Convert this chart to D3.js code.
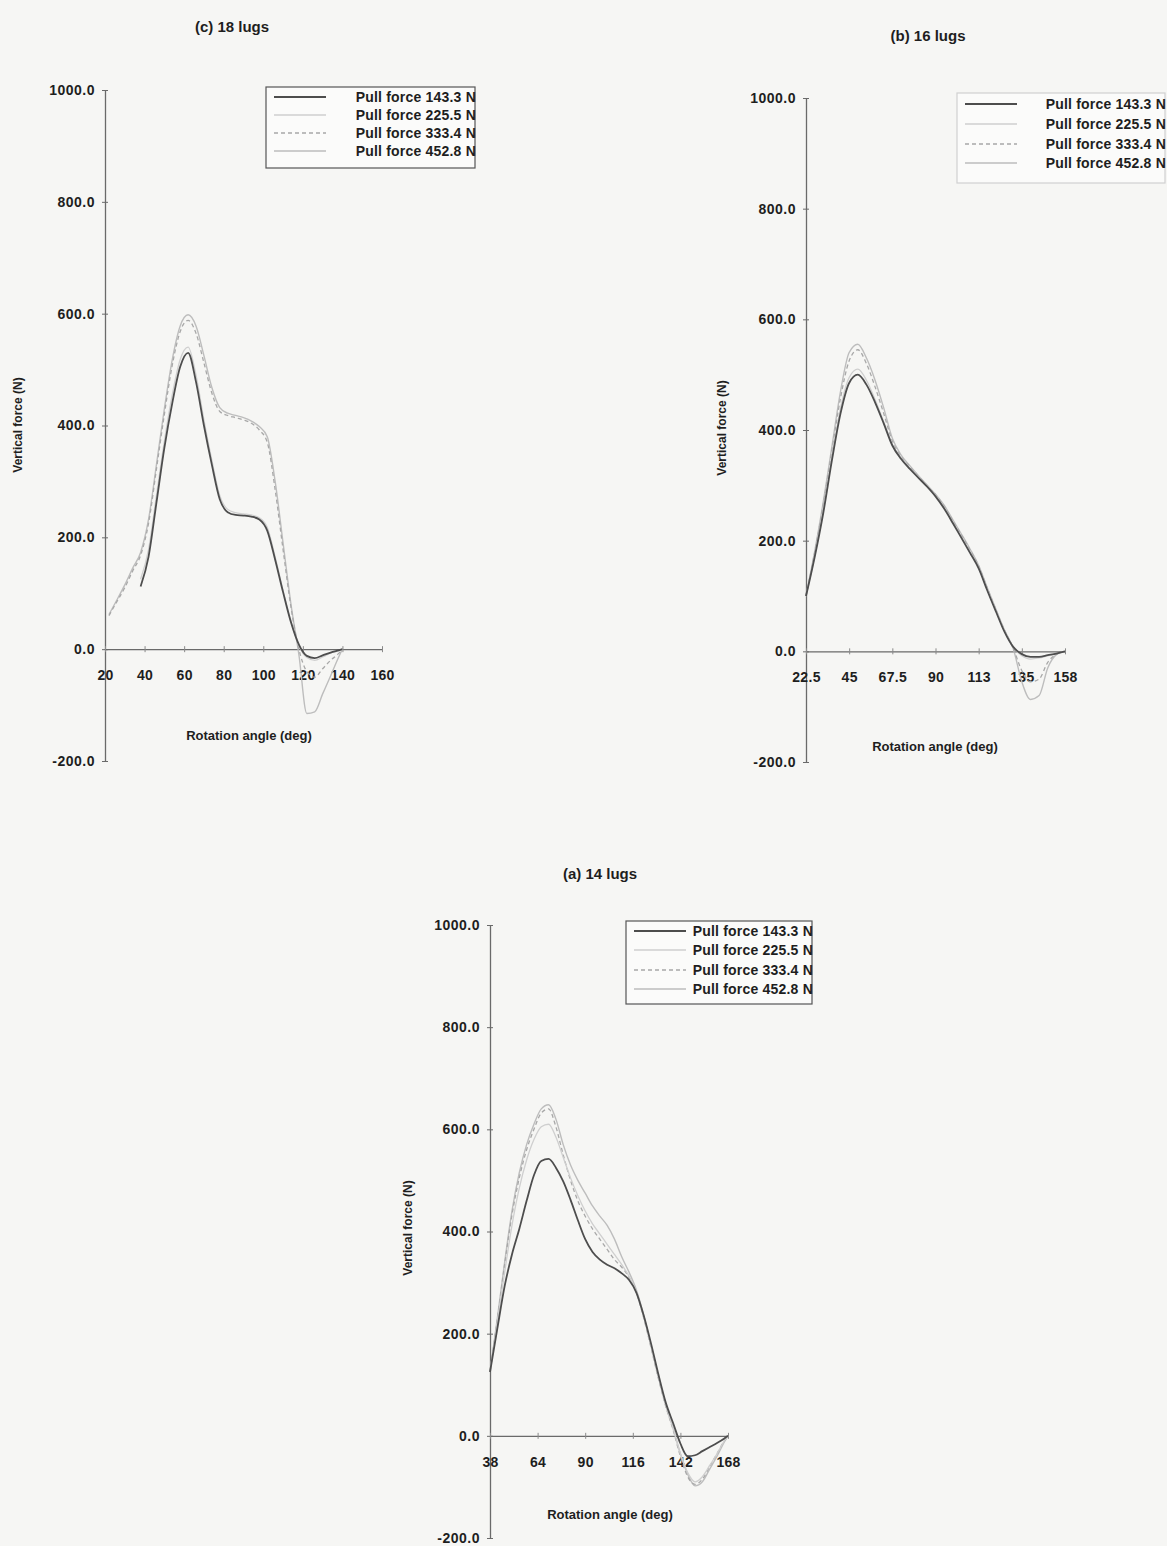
<!DOCTYPE html>
<html>
<head>
<meta charset="utf-8">
<script src="https://cdn.jsdelivr.net/npm/d3@7"></script>
<style>
  html, body { margin: 0; padding: 0; background: #f6f6f4; }
  svg { display: block; }
  text { font-family: "Liberation Sans", Arial, sans-serif; fill: #1e1e1e; font-weight: bold; }
</style>
</head>
<body>
<svg id="fig" width="1167" height="1546"></svg>
<script>
// legend entries, shared by the three panels
const seriesNames = ['Pull force 143.3 N', 'Pull force 225.5 N', 'Pull force 333.4 N', 'Pull force 452.8 N'];
const yTicks = [-200, 0, 200, 400, 600, 800, 1000];

// (c) 18 lugs
const anglesC = [22, 26, 30, 34, 38, 42, 46, 50, 54, 58, 62, 66, 70, 74, 78, 82, 86, 90, 94, 98, 102, 106, 110, 114, 118, 122, 126, 130, 134, 138, 140];
const c143 = [null, null, null, null, 112, 165, 262, 360, 440, 505, 530, 478, 400, 330, 268, 245, 240, 239, 237, 232, 212, 160, 102, 48, 8, -12, -16, -11, -6, -2, 0];
const c225 = [null, null, null, null, 125, 178, 275, 372, 455, 518, 540, 490, 410, 338, 275, 250, 244, 242, 240, 235, 218, 165, 105, 50, 6, -15, -20, -14, -7, -3, 0];
const c333 = [60, 85, 110, 140, 168, 225, 322, 420, 508, 568, 588, 565, 512, 458, 425, 418, 414, 410, 404, 392, 370, 285, 178, 75, 0, -40, -50, -35, -20, -8, 0];
const c452 = [62, 88, 115, 145, 173, 232, 330, 430, 518, 578, 598, 578, 525, 468, 432, 422, 418, 414, 408, 398, 380, 300, 190, 80, -10, -115, -112, -80, -48, -15, 0];
const xTicksC = [20, 40, 60, 80, 100, 120, 140, 160];
const xLabelsC = ['20', '40', '60', '80', '100', '120', '140', '160'];

// (b) 16 lugs
const anglesB = [22.5, 27, 31.5, 36, 40.5, 45, 49.5, 54, 58.5, 63, 67.5, 72, 76.5, 81, 85.5, 90, 94.5, 99, 103.5, 108, 112.5, 117, 121.5, 126, 130.5, 135, 139.5, 144, 148.5, 153, 157.5];
const b143 = [100, 170, 250, 345, 430, 485, 500, 482, 450, 412, 372, 348, 330, 314, 298, 280, 258, 232, 205, 178, 150, 110, 72, 35, 8, -5, -10, -10, -7, -4, 0];
const b225 = [100, 172, 255, 352, 440, 495, 510, 490, 455, 415, 374, 350, 332, 316, 300, 282, 260, 234, 207, 180, 152, 112, 74, 37, 8, -8, -14, -12, -8, -4, 0];
const b333 = [100, 178, 265, 362, 458, 525, 545, 520, 478, 430, 380, 352, 334, 317, 300, 283, 262, 236, 210, 183, 154, 114, 75, 38, 6, -35, -55, -50, -20, -5, 0];
const b452 = [100, 180, 270, 370, 470, 540, 555, 530, 490, 440, 385, 355, 336, 318, 301, 284, 264, 238, 212, 185, 155, 115, 76, 38, 5, -55, -87, -80, -30, -6, 0];
const xTicksB = [22.5, 45, 67.5, 90, 112.5, 135, 157.5];
const xLabelsB = ['22.5', '45', '67.5', '90', '113', '135', '158'];

// (a) 14 lugs
const anglesA = [38, 42, 46, 50, 54, 58, 62, 66, 70, 74, 78, 82, 86, 90, 94, 98, 102, 106, 110, 114, 118, 122, 126, 130, 134, 138, 142, 146, 150, 154, 158, 162, 166, 168];
const a143 = [125, 210, 293, 355, 405, 460, 510, 538, 542, 525, 498, 462, 422, 385, 360, 345, 335, 328, 318, 305, 280, 235, 180, 120, 65, 25, -15, -40, -38, -30, -22, -14, -5, 0];
const a225 = [125, 222, 320, 412, 485, 540, 580, 605, 610, 585, 545, 505, 470, 440, 415, 395, 375, 355, 335, 312, 282, 232, 175, 115, 60, 15, -35, -72, -90, -80, -58, -35, -10, 0];
const a333 = [125, 228, 335, 432, 505, 560, 600, 632, 640, 605, 550, 500, 460, 430, 405, 385, 365, 345, 330, 310, 280, 230, 172, 112, 58, 12, -40, -80, -95, -85, -60, -35, -10, 0];
const a452 = [125, 230, 340, 440, 515, 570, 610, 640, 648, 620, 570, 530, 500, 475, 450, 430, 412, 385, 350, 320, 285, 235, 175, 115, 60, 15, -35, -75, -98, -90, -65, -40, -12, 0];
const xTicksA = [38, 64, 90, 116, 142, 168];
const xLabelsA = ['38', '64', '90', '116', '142', '168'];

// line looks, one per pull force
const styles = [
    { stroke: '#4d4d4d', width: 1.8, dash: null },
    { stroke: '#cfcfcf', width: 1.3, dash: null },
    { stroke: '#a8a8a8', width: 1.3, dash: '4,3' },
    { stroke: '#bdbdbd', width: 1.4, dash: null }
];

const panels = [
    {
        title: '(c) 18 lugs', titleX: 232, titleY: 32,
        angles: anglesC, series: [c143, c225, c333, c452],
        xTicks: xTicksC, xLabels: xLabelsC, xDomain: [20, 160],
        left: 105, right: 382, top: 90, bottom: 761,
        xLabelPos: [249, 740], yLabelPos: [22, 425],
        legend: { x: 266, y: 87, w: 209, h: 81, border: '#555', rowY: [97, 115, 133, 151] }
    },
    {
        title: '(b) 16 lugs', titleX: 928, titleY: 41,
        angles: anglesB, series: [b143, b225, b333, b452],
        xTicks: xTicksB, xLabels: xLabelsB, xDomain: [22.5, 157.5],
        left: 806, right: 1065, top: 98, bottom: 762,
        xLabelPos: [935, 751], yLabelPos: [726, 428],
        legend: { x: 957, y: 93, w: 208, h: 90, border: '#d0d0d0', rowY: [104, 124, 144, 163] }
    },
    {
        title: '(a) 14 lugs', titleX: 600, titleY: 879,
        angles: anglesA, series: [a143, a225, a333, a452],
        xTicks: xTicksA, xLabels: xLabelsA, xDomain: [38, 168],
        left: 490, right: 728, top: 925, bottom: 1538,
        xLabelPos: [610, 1519], yLabelPos: [412, 1228],
        legend: { x: 626, y: 921, w: 186, h: 83, border: '#555', rowY: [931, 950, 970, 989] }
    }
];

const svg = d3.select('#fig');

function drawPanel(p) {
    const g = svg.append('g');
    const x = d3.scaleLinear().domain(p.xDomain).range([p.left, p.right]);
    const y = d3.scaleLinear().domain([-200, 1000]).range([p.bottom, p.top]);

    g.append('text')
        .attr('x', p.titleX).attr('y', p.titleY)
        .attr('text-anchor', 'middle')
        .style('font-size', '15px')
        .text(p.title);

    // y axis with small crossing ticks
    const yAxis = d3.axisLeft(y)
        .tickValues(yTicks)
        .tickFormat(d => d.toFixed(1))
        .tickSizeOuter(0)
        .tickPadding(10);
    const ya = g.append('g').attr('transform', `translate(${p.left},0)`).call(yAxis);
    ya.select('.domain').attr('stroke', '#6a6a6a').attr('stroke-width', 1.3);
    ya.selectAll('.tick line').attr('x1', -3).attr('x2', 3).attr('stroke', '#6a6a6a');
    ya.selectAll('.tick text')
        .attr('x', -10)
        .style('font-size', '14px').style('letter-spacing', '0.5px')
        .style('font-family', '"Liberation Sans", Arial, sans-serif')
        .style('font-weight', 'bold').attr('fill', '#1e1e1e');

    // x axis sits on the zero line
    const xAxis = d3.axisBottom(x)
        .tickValues(p.xTicks)
        .tickFormat((d, i) => p.xLabels[i])
        .tickSizeOuter(0);
    const xa = g.append('g').attr('transform', `translate(0,${y(0)})`).call(xAxis);
    xa.select('.domain').attr('stroke', '#6a6a6a').attr('stroke-width', 1.3);
    xa.selectAll('.tick line').attr('y1', -3).attr('y2', 3).attr('stroke', '#8a8a8a');
    xa.selectAll('.tick text')
        .attr('y', 31).attr('dy', null)
        .style('font-size', '14px').style('letter-spacing', '0.3px')
        .style('font-family', '"Liberation Sans", Arial, sans-serif')
        .style('font-weight', 'bold').attr('fill', '#1e1e1e');

    g.append('text')
        .attr('x', p.xLabelPos[0]).attr('y', p.xLabelPos[1])
        .attr('text-anchor', 'middle')
        .style('font-size', '13px')
        .text('Rotation angle (deg)');

    g.append('text')
        .attr('transform', `translate(${p.yLabelPos[0]},${p.yLabelPos[1]}) rotate(-90)`)
        .attr('text-anchor', 'middle')
        .style('font-size', '12px')
        .text('Vertical force (N)');

    // curves, heaviest pull drawn first so the dark one stays on top
    const line = d3.line()
        .defined(d => d.v !== null)
        .x(d => x(d.a))
        .y(d => y(d.v))
        .curve(d3.curveMonotoneX);

    const order = [3, 2, 1, 0];
    order.forEach(i => {
        const pts = p.angles.map((a, k) => ({ a: a, v: p.series[i][k] }));
        g.append('path')
            .datum(pts)
            .attr('fill', 'none')
            .attr('stroke', styles[i].stroke)
            .attr('stroke-width', styles[i].width)
            .attr('stroke-dasharray', styles[i].dash)
            .attr('d', line);
    });

    // legend
    const L = p.legend;
    const lg = g.append('g');
    lg.append('rect')
        .attr('x', L.x).attr('y', L.y).attr('width', L.w).attr('height', L.h)
        .attr('fill', '#fbfbfa').attr('stroke', L.border).attr('stroke-width', 1.2);
    seriesNames.forEach((name, i) => {
        const ry = L.rowY[i];
        lg.append('line')
            .attr('x1', L.x + 8).attr('x2', L.x + 60)
            .attr('y1', ry).attr('y2', ry)
            .attr('stroke', styles[i].stroke)
            .attr('stroke-width', styles[i].width)
            .attr('stroke-dasharray', styles[i].dash);
        lg.append('text')
            .attr('x', L.x + L.w + 1).attr('y', ry)
            .attr('dy', '0.36em')
            .attr('text-anchor', 'end')
            .style('font-size', '14px').style('letter-spacing', '0.2px')
            .text(name);
    });
}

panels.forEach(drawPanel);
</script>
</body>
</html>
